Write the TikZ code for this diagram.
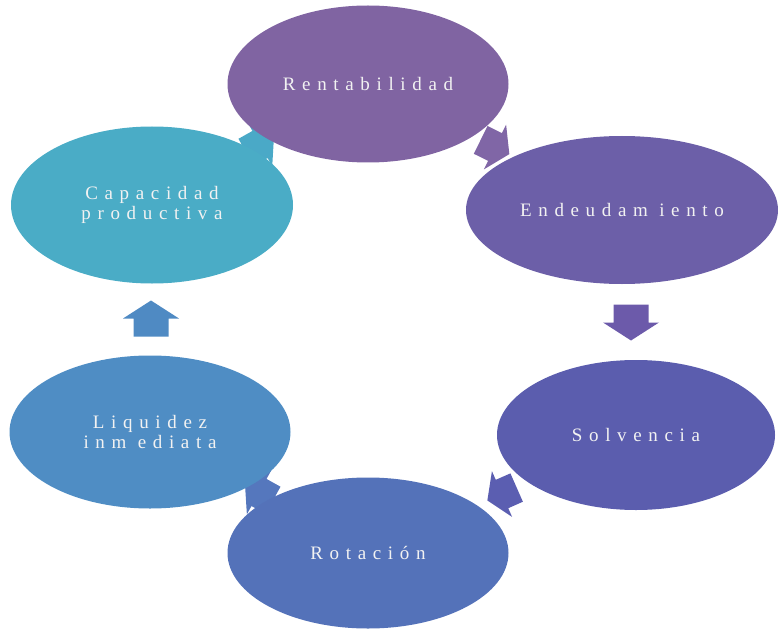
\documentclass[tikz,border=0pt]{standalone}
\usepackage{fontspec}
\setmainfont{Liberation Serif}
\newfontfamily\spacedserif{Liberation Serif}[LetterSpace=35]
\usetikzlibrary{shapes.geometric,calc,backgrounds}

\definecolor{rentC}{HTML}{8064A2}
\definecolor{endC}{HTML}{6C5FA8}
\definecolor{solC}{HTML}{5B5DAE}
\definecolor{rotC}{HTML}{5472B9}
\definecolor{liqC}{HTML}{4F8DC4}
\definecolor{capC}{HTML}{4AACC6}
\definecolor{arOne}{HTML}{8066A6}
\definecolor{arTwo}{HTML}{6C5AAA}
\definecolor{arThree}{HTML}{5B5EB1}
\definecolor{arFour}{HTML}{5577BD}
\definecolor{arFive}{HTML}{4F8AC3}
\definecolor{arSix}{HTML}{4AA9C7}
\definecolor{labelC}{HTML}{F2F2F2}

% block arrow outline: #1 half length, #2 half shaft width, #3 half head width
\newcommand\blockarrowpath[3]{%
  (-#1,-#2) -- (0,-#2) -- (0,-#3) -- (#1,0) -- (0,#3) -- (0,#2) -- (-#1,#2) -- cycle}

% diagonal link: halfway between two nodes, pointing from the first to the second
\newcommand\cyclelink[3]{%
  \pgfmathanglebetweenpoints{\pgfpointanchor{#1}{center}}{\pgfpointanchor{#2}{center}}%
  \let\linkangle\pgfmathresult
  \begin{scope}[shift={($(#1.center)!0.5!(#2.center)$)}, rotate=\linkangle]
    \fill[#3] \blockarrowpath{16}{15.5}{25};
  \end{scope}}

% straight link with a fixed direction and a small sideways offset
\newcommand\cyclelinkat[5]{%
  \begin{scope}[shift={($(#1.center)!0.5!(#2.center)+(#5,0)$)}, rotate=#4]
    \fill[#3] \blockarrowpath{18}{17.5}{28};
  \end{scope}}

\tikzset{
  stage/.style={ellipse, inner sep=0pt, text=labelC, align=center,
    font=\spacedserif\fontsize{19}{20}\selectfont}
}

\begin{document}
\begin{tikzpicture}[x=1pt, y=-1pt]
  \useasboundingbox (0,0) rectangle (778,631);

  \node[stage, fill=rentC, minimum width=281pt, minimum height=157pt] (rent) at (368,84) {Rentabilidad};
  \node[stage, fill=endC, minimum width=312pt, minimum height=148pt] (endeud) at (622,210) {Endeudam iento};
  \node[stage, fill=solC, minimum width=278pt, minimum height=150pt] (solv) at (636,435) {Solvencia};
  \node[stage, fill=rotC, minimum width=281pt, minimum height=151pt] (rot) at (368,553) {Rotación};
  \node[stage, fill=liqC, minimum width=281pt, minimum height=153pt] (liq) at (150,432) {Liquidez\\inm ediata};
  \node[stage, fill=capC, minimum width=282pt, minimum height=157pt] (cap) at (152,205) {Capacidad\\productiva};

  \begin{scope}[on background layer]
    \cyclelink{rent}{endeud}{arOne}
    \cyclelinkat{endeud}{solv}{arTwo}{-90}{2}
    \cyclelink{solv}{rot}{arThree}
    \cyclelink{rot}{liq}{arFour}
    \cyclelinkat{liq}{cap}{arFive}{90}{0}
    \cyclelink{cap}{rent}{arSix}
  \end{scope}
\end{tikzpicture}
\end{document}
